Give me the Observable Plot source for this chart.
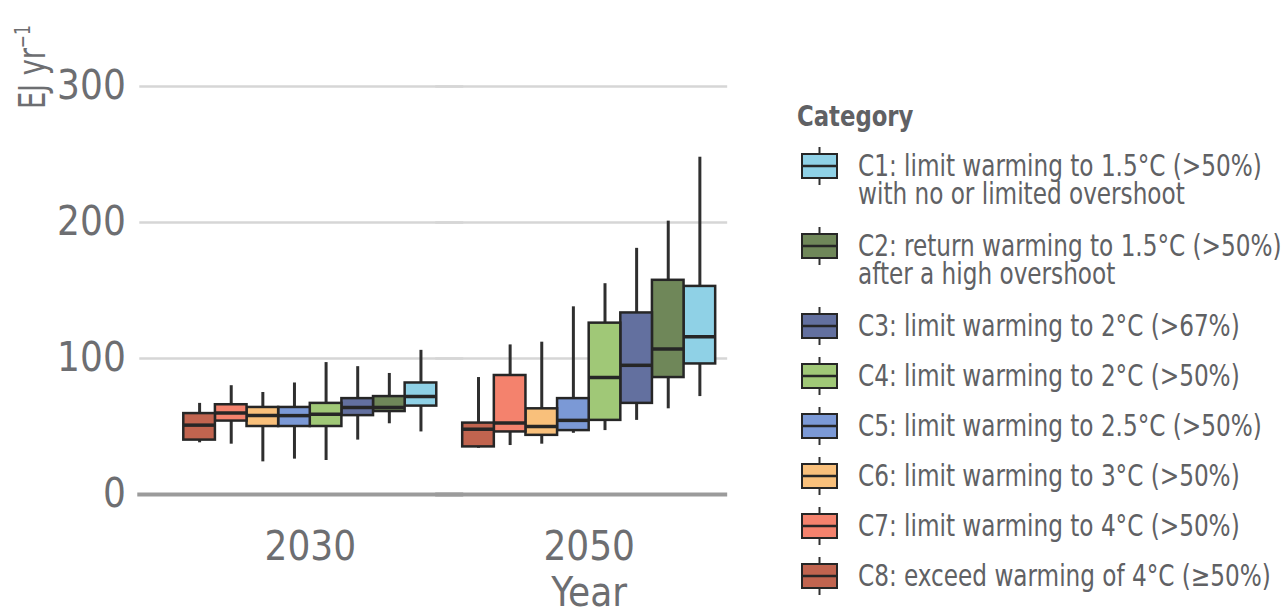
<!DOCTYPE html>
<html>
<head>
<meta charset="utf-8">
<script src="https://cdn.jsdelivr.net/npm/d3@7"></script>
<script src="https://cdn.jsdelivr.net/npm/@observablehq/plot@0.6"></script>
<style>
  body { margin: 0; background: #fff; }
  #wrap { position: relative; width: 1283px; height: 612px; overflow: hidden;
          font-family: "DejaVu Sans Condensed", "DejaVu Sans", sans-serif; font-stretch: condensed; }
  #chart { position: absolute; left: 0; top: 0; }
  #legend { position: absolute; left: 0; top: 0; color: #606164; }
  .lg-title { position: absolute; left: 797px; top: 98px; font-size: 29px; font-weight: bold; line-height: 36px;
              white-space: nowrap; transform-origin: 0 50%; }
  .lg-item { position: absolute; left: 801px; white-space: nowrap; }
  .lg-item svg { position: absolute; left: 0; top: 0; }
  .lg-text { position: absolute; left: 57px; top: 5px; font-size: 29.5px; line-height: 28px; transform-origin: 0 0; }
  #ylab { position: absolute; left: 13px; top: 109px; font-size: 38px; line-height: 38px; color: #6d6e71;
          white-space: nowrap; transform-origin: 0 0; }
  #ylab sup { font-size: 22px; line-height: 0; vertical-align: 15px; }
</style>
</head>
<body>
<div id="wrap"><div id="chart"></div><div id="ylab">EJ yr<sup>−1</sup></div><div id="legend"></div></div>
<script>
// ---- data ----
const years = [2030, 2050];
const categories = ["C1", "C2", "C3", "C4", "C5", "C6", "C7", "C8"];
const categoryLabels = [
  ["C1: limit warming to 1.5°C (>50%)", "with no or limited overshoot"],
  ["C2: return warming to 1.5°C (>50%)", "after a high overshoot"],
  ["C3: limit warming to 2°C (>67%)"],
  ["C4: limit warming to 2°C (>50%)"],
  ["C5: limit warming to 2.5°C (>50%)"],
  ["C6: limit warming to 3°C (>50%)"],
  ["C7: limit warming to 4°C (>50%)"],
  ["C8: exceed warming of 4°C (≥50%)"]
];
const categoryColors = ["#8fd1e6", "#6f8759", "#63709f", "#a0c877", "#7b99d6", "#f9c07b", "#f4826d", "#c1644f"];
const yTicks = [0, 100, 200, 300];

// 2030 (order C1..C8): whisker low, Q1, median, Q3, whisker high
const lo2030  = [46, 52, 40, 25, 26, 24, 37, 38];
const q1_2030 = [65, 61, 58, 50, 50, 50, 54, 40];
const med2030 = [72, 64, 64, 59, 58, 58, 60, 51];
const q3_2030 = [82, 72, 70.5, 67, 64, 64, 66, 59.5];
const hi2030  = [106, 89, 94, 97, 82, 75, 80, 67];

// 2050 (order C1..C8)
const lo2050  = [72, 63, 54.5, 47, 45, 37, 36, 34];
const q1_2050 = [96, 86, 67, 54.5, 47, 43.5, 46, 35];
const med2050 = [116, 107, 95, 86, 54.5, 50, 52.5, 48];
const q3_2050 = [153, 157.5, 133.5, 126, 70.5, 63, 87.5, 52.5];
const hi2050  = [248, 201, 181, 155, 138, 112, 110, 86];

function makeRows(year, lo, q1, med, q3, hi) {
  return categories.map((c, i) => ({year, cat: c, lo: lo[i], q1: q1[i], med: med[i], q3: q3[i], hi: hi[i]}));
}
const rows = [
  ...makeRows(2030, lo2030, q1_2030, med2030, q3_2030, hi2030),
  ...makeRows(2050, lo2050, q1_2050, med2050, q3_2050, hi2050)
];

const fontFamily = '"DejaVu Sans Condensed", "DejaVu Sans", sans-serif';
const gridVals = yTicks.filter(d => d > 0);

const chart = Plot.plot({
  width: 780,
  height: 612,
  marginLeft: 140,
  marginRight: 54,
  marginTop: 86,
  marginBottom: 118,
  style: {fontFamily, fontStretch: "condensed", color: "#6d6e71", background: "white", overflow: "visible"},
  fx: {domain: years, paddingInner: 0.093, paddingOuter: 0.097, align: 0.8, round: false, axis: null, label: null},
  x: {domain: categories.slice().reverse(), padding: 0, round: false, axis: null},
  y: {domain: [0, 300], axis: null},
  color: {domain: categories, range: categoryColors},
  marks: [
    // grid and baseline, extended across the gaps between and around the two year groups
    Plot.ruleY(gridVals, {y: d => d, fx: () => 2030, insetLeft: -44, insetRight: -27, stroke: "#d6d6d6", strokeWidth: 2.5}),
    Plot.ruleY(gridVals, {y: d => d, fx: () => 2050, insetLeft: -27, insetRight: -12, stroke: "#d6d6d6", strokeWidth: 2.5}),
    Plot.ruleY([0], {y: d => d, fx: () => 2030, insetLeft: -46, insetRight: -27, stroke: "#9b9b9b", strokeWidth: 4}),
    Plot.ruleY([0], {y: d => d, fx: () => 2050, insetLeft: -27, insetRight: -12, stroke: "#9b9b9b", strokeWidth: 4}),
    Plot.ruleX(rows, {fx: "year", x: "cat", y1: "lo", y2: "hi", stroke: "#2f2f2f", strokeWidth: 3}),
    Plot.barY(rows, {fx: "year", x: "cat", y1: "q1", y2: "q3", fill: "cat", stroke: "#262626", strokeWidth: 2.5}),
    Plot.tickY(rows, {fx: "year", x: "cat", y: "med", stroke: "#262626", strokeWidth: 3.5}),
    Plot.axisY({ticks: yTicks, tickSize: 0, tickPadding: 58, fontSize: 40, label: null}),
    Plot.axisFx({anchor: "bottom", tickFormat: d => String(d), tickSize: 0, tickPadding: 37, fontSize: 40, label: null}),
    Plot.text(["Year"], {fx: () => 2050, text: d => d, frameAnchor: "bottom", dy: 111, fontSize: 40, fill: "#6d6e71"})
  ]
});
document.getElementById("chart").appendChild(chart);

// y-axis title, rotated and slightly condensed to the reference length
const ylab = document.getElementById("ylab");
const ylabK = 84 / ylab.scrollWidth;
ylab.style.transform = `rotate(-90deg) scaleX(${ylabK})`;

// ---- legend ----
const legendEl = document.getElementById("legend");
const titleEl = document.createElement("div");
titleEl.className = "lg-title";
titleEl.textContent = "Category";
legendEl.appendChild(titleEl);
let itemTop = 147;
const texts = [];
categories.forEach((c, i) => {
  const item = document.createElement("div");
  item.className = "lg-item";
  item.style.top = itemTop + "px";
  const svg = d3.create("svg").attr("width", 40).attr("height", 40);
  svg.append("line").attr("x1", 18.5).attr("x2", 18.5).attr("y1", 0).attr("y2", 38)
    .attr("stroke", "#2f2f2f").attr("stroke-width", 2);
  svg.append("rect").attr("x", 1).attr("y", 7).attr("width", 35).attr("height", 24)
    .attr("fill", categoryColors[i]).attr("stroke", "#262626").attr("stroke-width", 2);
  svg.append("line").attr("x1", 1).attr("x2", 36).attr("y1", 19).attr("y2", 19)
    .attr("stroke", "#262626").attr("stroke-width", 2.5);
  item.appendChild(svg.node());
  const txt = document.createElement("div");
  txt.className = "lg-text";
  txt.innerHTML = categoryLabels[i].join("<br>");
  item.appendChild(txt);
  legendEl.appendChild(item);
  texts.push(txt);
  itemTop += categoryLabels[i].length === 2 ? 80 : 50;
});
// condense the legend text so that the first C1 line spans the reference width (≈404 px)
const k = 404 / texts[0].scrollWidth;
texts.forEach(t => t.style.transform = `scaleX(${k})`);
titleEl.style.transform = `scaleX(${k})`;
</script>
</body>
</html>
